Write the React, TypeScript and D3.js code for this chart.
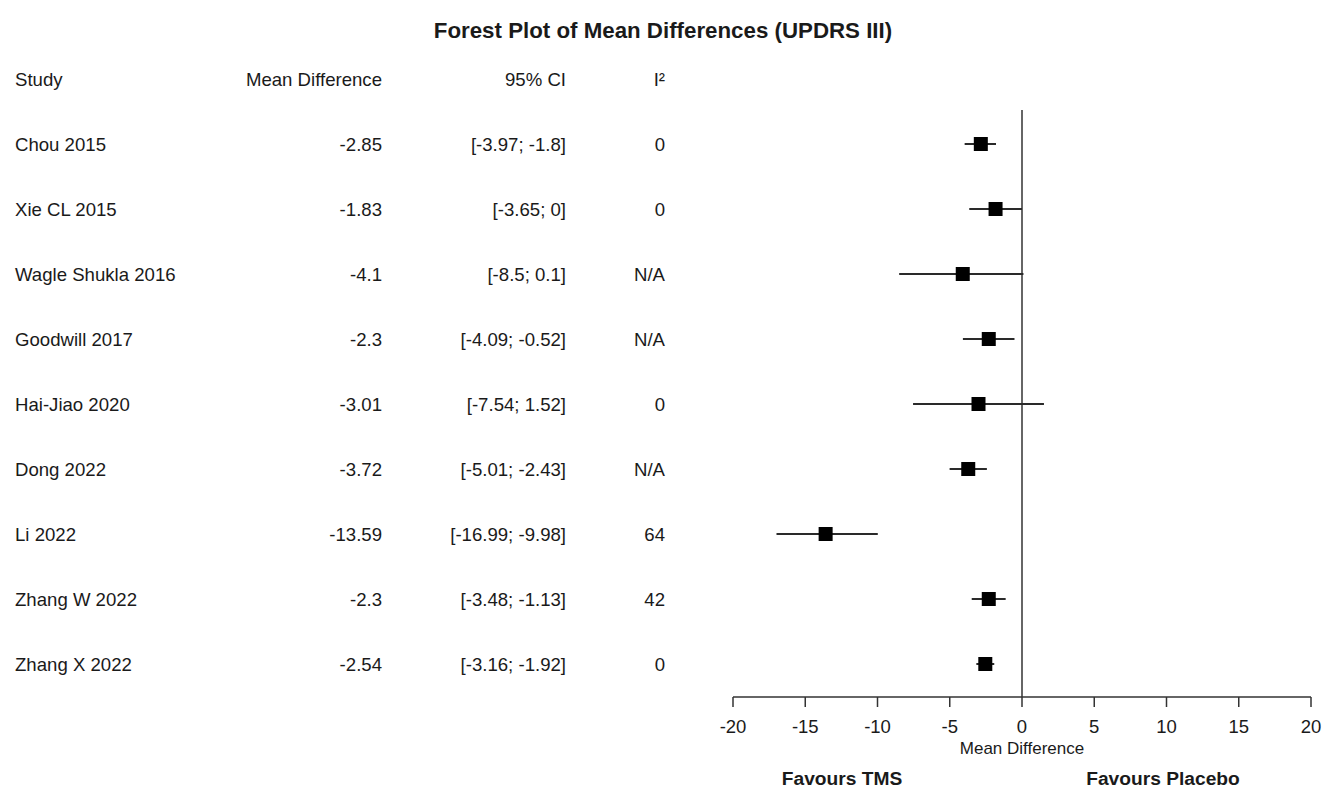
import React from "react";
import * as d3 from "d3";

const studies = ["Chou 2015", "Xie CL 2015", "Wagle Shukla 2016", "Goodwill 2017", "Hai-Jiao 2020", "Dong 2022", "Li 2022", "Zhang W 2022", "Zhang X 2022"];
const meanDiff = [-2.85, -1.83, -4.1, -2.3, -3.01, -3.72, -13.59, -2.3, -2.54];
const ciLow = [-3.97, -3.65, -8.5, -4.09, -7.54, -5.01, -16.99, -3.48, -3.16];
const ciHigh = [-1.8, 0, 0.1, -0.52, 1.52, -2.43, -9.98, -1.13, -1.92];
const i2 = ["0", "0", "N/A", "N/A", "0", "N/A", "64", "42", "0"];
const ticks = [-20, -15, -10, -5, 0, 5, 10, 15, 20];

const W = 1333, H = 788;
const FONT = "'Liberation Sans', Arial, Helvetica, sans-serif";

export default function App() {
  const x = d3.scaleLinear().domain([-20, 20]).range([733, 1311]);
  const y = d3.scaleLinear().domain([0, studies.length - 1]).range([144, 664]);
  const axisY = 697;
  const sq = 14;
  const colMD = 382, colCI = 566, colI2 = 665;
  const txt = "#1a1a1a";
  const fs = 18.6;

  return (
    <svg width={W} height={H} style={{ position: "absolute", left: 0, top: 0, background: "#fff" }} fontFamily={FONT}>
      <rect x={0} y={0} width={W} height={H} fill="#fff" />
      <text x={663} y={38} textAnchor="middle" fontWeight="bold" fontSize={22.3} fill={txt}>
        Forest Plot of Mean Differences (UPDRS III)
      </text>
      {/* headers */}
      <g fontSize={fs} fill={txt}>
        <text x={15} y={79} dy="0.35em">Study</text>
        <text x={colMD} y={79} dy="0.35em" textAnchor="end">Mean Difference</text>
        <text x={colCI} y={79} dy="0.35em" textAnchor="end">95% CI</text>
        <text x={colI2} y={79} dy="0.35em" textAnchor="end">I²</text>
      </g>
      {/* rows */}
      <g fontSize={fs} fill={txt}>
        {studies.map((s, i) => (
          <g key={s}>
            <text x={15} y={y(i)} dy="0.35em">{s}</text>
            <text x={colMD} y={y(i)} dy="0.35em" textAnchor="end">{meanDiff[i]}</text>
            <text x={colCI} y={y(i)} dy="0.35em" textAnchor="end">{`[${ciLow[i]}; ${ciHigh[i]}]`}</text>
            <text x={colI2} y={y(i)} dy="0.35em" textAnchor="end">{i2[i]}</text>
          </g>
        ))}
      </g>
      {/* zero line */}
      <line x1={x(0)} x2={x(0)} y1={110} y2={axisY} stroke="#333" strokeWidth={1.5} />
      {/* CIs and squares */}
      {studies.map((s, i) => (
        <g key={"m" + s}>
          <line x1={x(ciLow[i])} x2={x(ciHigh[i])} y1={y(i)} y2={y(i)} stroke="#2a2a2a" strokeWidth={2} />
          <rect x={x(meanDiff[i]) - sq / 2} y={y(i) - sq / 2} width={sq} height={sq} fill="#000" />
        </g>
      ))}
      {/* axis */}
      <line x1={x(-20)} x2={x(20)} y1={axisY} y2={axisY} stroke="#333" strokeWidth={1.5} />
      {ticks.map((t) => (
        <g key={t}>
          <line x1={x(t)} x2={x(t)} y1={axisY} y2={axisY + 10} stroke="#333" strokeWidth={1.5} />
          <text x={x(t)} y={727} dy="0.35em" textAnchor="middle" fontSize={18.5} fill={txt}>{t}</text>
        </g>
      ))}
      <text x={x(0)} y={748} dy="0.35em" textAnchor="middle" fontSize={17} fill={txt}>Mean Difference</text>
      <text x={842} y={778} dy="0.35em" textAnchor="middle" fontSize={19.2} fontWeight="bold" fill={txt}>Favours TMS</text>
      <text x={1163} y={778} dy="0.35em" textAnchor="middle" fontSize={19.2} fontWeight="bold" fill={txt}>Favours Placebo</text>
    </svg>
  );
}
